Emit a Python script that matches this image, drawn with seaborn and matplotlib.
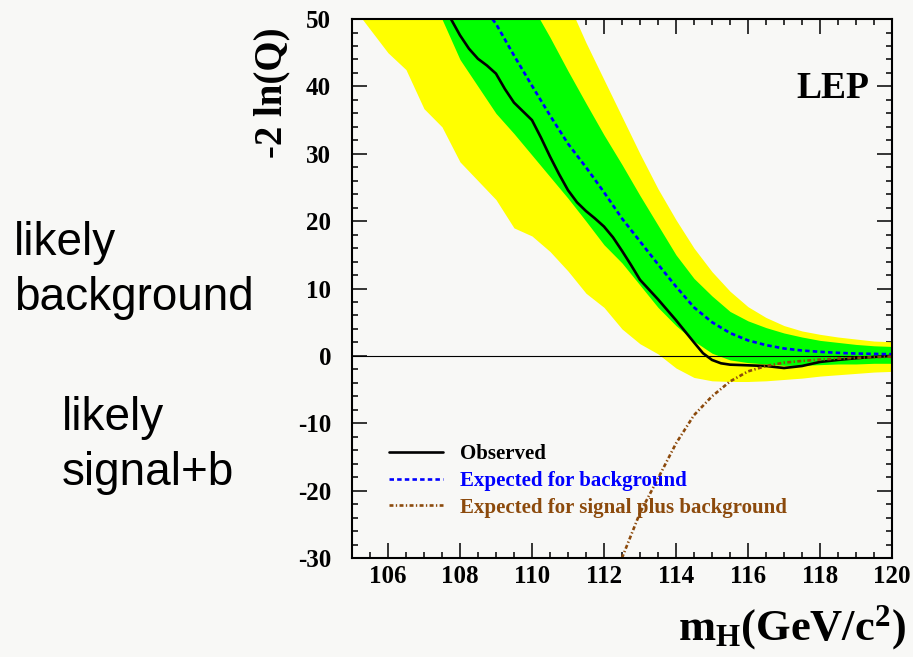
import numpy as np
import pandas as pd
import matplotlib
matplotlib.use("Agg")
import matplotlib.pyplot as plt
from matplotlib.ticker import MultipleLocator
import seaborn as sns

# Higgs mass grid for the expectation bands (GeV/c^2)
mass_band = [105.0, 105.5, 106.0, 106.5, 107.0, 107.5, 108.0, 108.5, 109.0, 109.5,
             110.0, 110.5, 111.0, 111.5, 112.0, 112.5, 113.0, 113.5, 114.0, 114.5,
             115.0, 115.5, 116.0, 116.5, 117.0, 117.5, 118.0, 118.5, 119.0, 119.5,
             120.0]
# 2 sigma band (yellow)
band2_lo = [52.0, 48.5, 45.0, 42.5, 36.7, 34.0, 28.8, 26.0, 23.2, 19.0,
            17.8, 15.5, 12.6, 9.3, 7.2, 4.0, 1.8, 0.3, -1.8, -3.2,
            -3.7, -3.8, -3.8, -3.7, -3.5, -3.3, -3.0, -2.8, -2.6, -2.4,
            -2.3]
band2_hi = [60.0, 60.0, 60.0, 60.0, 60.0, 60.0, 60.0, 60.0, 60.0, 60.0,
            60.0, 60.0, 52.5, 46.5, 41.0, 35.5, 30.0, 24.8, 20.2, 16.0,
            12.5, 9.6, 7.3, 5.7, 4.5, 3.7, 3.2, 2.8, 2.5, 2.2,
            2.1]
# 1 sigma band (green)
band1_lo = [64.0, 61.0, 58.5, 55.5, 53.0, 50.0, 44.0, 40.0, 36.0, 33.0,
            29.8, 26.6, 23.4, 20.0, 16.5, 13.8, 10.5, 7.2, 4.5, 2.2,
            0.4, -0.6, -1.0, -1.2, -1.4, -1.4, -1.3, -1.2, -1.2, -1.1,
            -1.1]
band1_hi = [60.0, 60.0, 60.0, 60.0, 60.0, 60.0, 60.0, 60.0, 60.0, 60.0,
            52.0, 47.3, 42.3, 37.5, 32.8, 28.4, 23.8, 19.4, 15.0, 11.5,
            8.9, 6.6, 5.2, 4.2, 3.4, 2.8, 2.3, 2.0, 1.7, 1.5,
            1.4]

# Observed -2 ln(Q)
mass_obs = [107.75, 108.0, 108.25, 108.5, 108.75, 109.0, 109.25, 109.5, 109.75,
            110.0, 110.25, 110.5, 110.75, 111.0, 111.25, 111.5, 111.75, 112.0,
            112.25, 112.5, 112.75, 113.0, 113.5, 114.0, 114.5, 114.75, 115.0,
            115.25, 115.5, 116.0, 116.5, 117.0, 117.5, 118.0, 118.5, 119.0,
            119.5, 120.0]
q_obs = [50.0, 47.6, 45.6, 44.1, 43.1, 41.9, 39.6, 37.6, 36.3,
         35.0, 32.4, 29.6, 27.0, 24.6, 22.8, 21.5, 20.4, 19.2,
         17.6, 15.6, 13.5, 11.3, 8.4, 5.3, 2.0, 0.4, -0.6,
         -1.1, -1.3, -1.4, -1.5, -1.8, -1.5, -0.9, -0.6, -0.35,
         -0.15, 0.0]

# Expected for background only
mass_bkg = [108.9, 109.0, 109.5, 110.0, 110.5, 111.0, 111.5, 112.0, 112.5, 113.0,
            113.5, 114.0, 114.5, 115.0, 115.5, 116.0, 116.5, 117.0, 117.5, 118.0,
            118.5, 119.0, 119.5, 120.0]
q_bkg = [50.0, 49.3, 44.6, 40.1, 35.7, 31.5, 28.0, 24.3, 20.4, 17.0,
         13.6, 10.3, 7.2, 5.0, 3.4, 2.3, 1.6, 1.1, 0.8, 0.6,
         0.45, 0.35, 0.3, 0.25]

# Expected for signal plus background
mass_sb = [112.5, 113.0, 113.5, 114.0, 114.5, 115.0, 115.5, 116.0, 116.5, 117.0,
           117.5, 118.0, 118.5, 119.0, 119.5, 120.0]
q_sb = [-30.0, -23.3, -18.2, -13.0, -8.8, -6.0, -3.8, -2.3, -1.5, -1.0,
        -0.75, -0.55, -0.4, -0.3, -0.2, -0.1]

legend_labels = ["Observed", "Expected for background",
                 "Expected for signal plus background"]
line_colors = ["#000000", "#0000ff", "#8c4a0c"]

sns.set_theme(style="ticks")
plt.rcParams["font.family"] = ["Liberation Serif", "DejaVu Serif"]
plt.rcParams["axes.unicode_minus"] = False
for key in ("text.color", "axes.labelcolor", "xtick.color", "ytick.color",
            "xtick.labelcolor", "ytick.labelcolor", "axes.edgecolor"):
    plt.rcParams[key] = "black"
plt.rcParams["mathtext.fontset"] = "custom"
plt.rcParams["mathtext.rm"] = "Liberation Serif:bold"
plt.rcParams["mathtext.bf"] = "Liberation Serif:bold"
plt.rcParams["mathtext.it"] = "Liberation Serif:bold"

bg = "#f8f8f6"
fig = plt.figure(figsize=(9.13, 6.57), dpi=100, facecolor=bg)
ax = fig.add_axes([0.3855, 0.1507, 0.5915, 0.8203])
ax.set_facecolor(bg)

bands = pd.DataFrame({"mass": mass_band, "lo2": band2_lo, "hi2": band2_hi,
                      "lo1": band1_lo, "hi1": band1_hi})
ax.fill_between(bands["mass"], bands["lo2"], bands["hi2"], color="#ffff00",
                linewidth=0, zorder=1)
ax.fill_between(bands["mass"], bands["lo1"], bands["hi1"], color="#00ff00",
                linewidth=0, zorder=2)

ax.axhline(0, color="black", linewidth=0.8, zorder=3)

obs = pd.DataFrame({"mass": mass_obs, "q": q_obs})
bkg = pd.DataFrame({"mass": mass_bkg, "q": q_bkg})
sb = pd.DataFrame({"mass": mass_sb, "q": q_sb})

sns.lineplot(data=obs, x="mass", y="q", ax=ax, color=line_colors[0],
             linewidth=1.9, label=legend_labels[0], zorder=5)
sns.lineplot(data=bkg, x="mass", y="q", ax=ax, color=line_colors[1],
             linewidth=1.9, linestyle=(0, (1.7, 1.2)),
             label=legend_labels[1], zorder=5)
sns.lineplot(data=sb, x="mass", y="q", ax=ax, color=line_colors[2],
             linewidth=1.9, linestyle=(0, (1.5, 0.9, 0.5, 0.9)),
             label=legend_labels[2], zorder=5)

ax.set_xlim(105, 120)
ax.set_ylim(-30, 50)
ax.xaxis.set_major_locator(MultipleLocator(2))
ax.xaxis.set_minor_locator(MultipleLocator(0.5))
ax.yaxis.set_major_locator(MultipleLocator(10))
ax.yaxis.set_minor_locator(MultipleLocator(2))
ax.tick_params(which="both", direction="in", top=True, right=True,
               color="black", width=1.1)
ax.tick_params(which="major", length=11)
ax.tick_params(which="minor", length=4.5)
ax.tick_params(axis="x", which="major", pad=5, labelsize=18)
ax.tick_params(axis="y", which="major", pad=15, labelsize=18)
for lab in ax.get_xticklabels() + ax.get_yticklabels():
    lab.set_fontweight("bold")
for sp in ax.spines.values():
    sp.set_linewidth(1.5)
    sp.set_color("black")
    sp.set_zorder(6)

ax.set_xlabel(r"m$_{\mathrm{H}}$(GeV/c$^{\mathrm{2}}$)", fontsize=32,
              fontweight="bold", ha="right", va="top")
ax.xaxis.set_label_coords(1.025, -0.085)
ax.set_ylabel("-2 ln(Q)", fontsize=28, fontweight="bold", ha="right", va="center")
ax.yaxis.set_label_coords(-0.148, 0.985)

ax.text(0.959, 0.853, "LEP", transform=ax.transAxes, ha="right", va="baseline",
        fontsize=27, fontweight="bold")

leg = ax.legend(loc="upper left", bbox_to_anchor=(0.069, 0.211), frameon=False,
                prop={"family": "Liberation Serif", "weight": "bold", "size": 15},
                handlelength=2.6, handletextpad=0.8, labelspacing=0.32,
                borderpad=0, borderaxespad=0)
for txt, c in zip(leg.get_texts(), line_colors):
    txt.set_color(c)

side = {"fontsize": 33, "family": ["Liberation Sans", "DejaVu Sans"],
        "va": "baseline", "ha": "left", "color": "black"}
fig.text(14 / 913, 1 - 255 / 657, "likely", **side)
fig.text(14 / 913, 1 - 310 / 657, "background", **side)
fig.text(62 / 913, 1 - 430 / 657, "likely", **side)
fig.text(62 / 913, 1 - 485 / 657, "signal+b", **side)

fig.savefig("out.png", dpi=100, facecolor=bg)
